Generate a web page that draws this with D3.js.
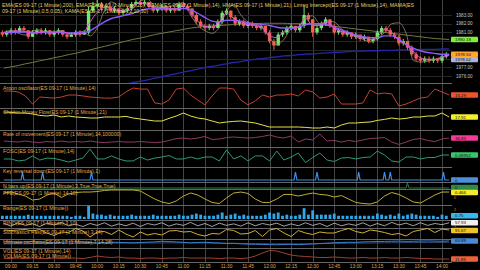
<!DOCTYPE html>
<html>
<head>
<meta charset="utf-8">
<script src="https://cdn.jsdelivr.net/npm/d3@7"></script>
<style>
  html, body { margin: 0; padding: 0; background: #000; }
  svg { display: block; }
</style>
</head>
<body>
<svg id="chart" width="480" height="270"></svg>
<script>

// minutes after 09:00, 3 minute candles / 5 minute indicator samples
const candleMinutes = d3.range(-6, 304, 3)
const lineMinutes = d3.range(-5, 306, 5)

const tickLabels = ["09:00","09:15","09:30","09:45","10:00","10:15","10:30","10:45","11:00","11:15","11:30",
  "11:45","12:00","12:15","12:30","12:45","13:00","13:15","13:30","13:45","14:00"]
const priceTicks = [1976, 1977, 1978, 1979, 1980, 1981, 1982, 1983]

const opens = [1981.0,1980.75,1981.0,1981.25,1981.0,1981.5,1981.25,1980.5,1981.0,1981.25,
  1981.0,1981.25,1980.75,1981.0,1981.25,1980.75,1980.5,1980.75,1981.0,1980.75,
  1981.0,1983.5,1984.0,1984.25,1983.75,1984.0,1983.5,1983.75,1983.25,1983.5,
  1983.75,1984.25,1984.5,1984.25,1984.5,1984.0,1983.5,1983.75,1984.0,1983.5,
  1983.75,1983.5,1984.25,1984.0,1983.75,1983.0,1982.25,1981.75,1981.5,1981.75,
  1981.5,1982.25,1983.25,1983.5,1982.75,1982.0,1982.25,1981.75,1982.0,1981.75,
  1981.5,1981.75,1981.0,1980.0,1979.5,1980.75,1981.0,1981.5,1981.75,1981.25,
  1981.75,1983.0,1982.5,1981.0,1981.5,1982.0,1982.5,1981.75,1981.0,1981.25,
  1980.75,1981.0,1980.5,1980.75,1980.25,1980.5,1980.0,1980.25,1981.0,1981.5,
  1981.25,1980.75,1980.5,1979.75,1980.0,1979.25,1978.5,1978.0,1977.75,1978.0,
  1977.75,1978.0,1977.75,1978.25]
const highs = [1981.25,1981.25,1981.5,1981.5,1981.75,1981.75,1981.25,1981.25,1981.5,1981.5,
  1981.5,1981.25,1981.25,1981.5,1981.25,1981.0,1981.0,1981.25,1981.25,1981.25,
  1984.0,1984.5,1984.75,1984.5,1984.25,1984.25,1984.0,1983.75,1983.75,1984.0,
  1984.5,1984.75,1984.75,1984.75,1984.5,1984.25,1984.0,1984.25,1984.0,1984.0,
  1984.0,1984.5,1984.5,1984.25,1983.75,1983.25,1982.5,1982.0,1982.0,1982.0,
  1982.5,1983.5,1983.75,1983.5,1983.0,1982.5,1982.5,1982.25,1982.25,1982.0,
  1982.0,1981.75,1981.25,1980.25,1981.0,1981.25,1981.75,1982.0,1981.75,1982.0,
  1984.0,1983.25,1982.5,1981.75,1982.25,1982.75,1982.5,1982.0,1981.5,1981.25,
  1981.25,1981.0,1981.0,1980.75,1980.75,1980.5,1980.5,1981.25,1981.75,1981.75,
  1981.5,1981.0,1980.75,1980.25,1980.0,1979.5,1978.75,1978.25,1978.25,1978.25,
  1978.25,1978.0,1978.5,1978.75]
const lows = [1980.5,1980.5,1980.75,1980.75,1981.0,1981.0,1980.25,1980.5,1980.75,1980.75,
  1980.75,1980.5,1980.5,1980.75,1980.5,1980.25,1980.5,1980.5,1980.5,1980.75,
  1980.75,1983.25,1983.75,1983.5,1983.5,1983.25,1983.25,1983.0,1983.0,1983.25,
  1983.5,1984.0,1984.0,1984.0,1983.75,1983.25,1983.25,1983.5,1983.25,1983.25,
  1983.25,1983.5,1983.75,1983.5,1982.75,1982.0,1981.5,1981.25,1981.25,1981.25,
  1981.5,1982.0,1983.0,1982.5,1981.75,1981.75,1981.5,1981.5,1981.5,1981.25,
  1981.25,1980.75,1979.75,1979.0,1979.5,1980.5,1980.75,1981.25,1981.0,1981.0,
  1981.5,1982.25,1980.5,1980.75,1981.25,1981.75,1981.5,1980.75,1980.75,1980.5,
  1980.5,1980.25,1980.25,1980.0,1980.0,1979.75,1979.75,1980.0,1980.75,1981.0,
  1980.5,1980.25,1979.5,1979.5,1979.0,1978.25,1977.75,1977.5,1977.5,1977.5,
  1977.5,1977.5,1977.5,1978.0]
const closes = [1980.75,1981.0,1981.25,1981.0,1981.5,1981.25,1980.5,1981.0,1981.25,1981.0,
  1981.25,1980.75,1981.0,1981.25,1980.75,1980.5,1980.75,1981.0,1980.75,1981.0,
  1983.5,1984.0,1984.25,1983.75,1984.0,1983.5,1983.75,1983.25,1983.5,1983.75,
  1984.25,1984.5,1984.25,1984.5,1984.0,1983.5,1983.75,1984.0,1983.5,1983.75,
  1983.5,1984.25,1984.0,1983.75,1983.0,1982.25,1981.75,1981.5,1981.75,1981.5,
  1982.25,1983.25,1983.5,1982.75,1982.0,1982.25,1981.75,1982.0,1981.75,1981.5,
  1981.75,1981.0,1980.0,1979.5,1980.75,1981.0,1981.5,1981.75,1981.25,1981.75,
  1983.0,1982.5,1981.0,1981.5,1982.0,1982.5,1981.75,1981.0,1981.25,1980.75,
  1981.0,1980.5,1980.75,1980.25,1980.5,1980.0,1980.25,1981.0,1981.5,1981.25,
  1980.75,1980.5,1979.75,1980.0,1979.25,1978.5,1978.0,1977.75,1978.0,1977.75,
  1978.0,1977.75,1978.25,1978.5]

// price overlays
const emaSlow = [1976.9,1977.05,1977.2,1977.4,1977.55,1977.75,1977.9,1978.1,1978.25,1978.45,1978.6,1978.8,1979.0,
  1979.2,1979.4,1979.6,1979.8,1980.0,1980.2,1980.35,1980.55,1980.75,1980.9,
  1981.05,1981.2,1981.35,1981.5,1981.6,1981.7,1981.75,1981.8,1981.85,
  1981.9,1981.95,1982.0,1982.0,1982.05,1982.05,1982.05,1982.05,1982.0,1982.0,1982.0,1981.95,1981.9,
  1981.8,1981.7,1981.6,1981.5,1981.4,1981.3,1981.2,1981.1,1981.0,1980.9,1980.8,1980.7,1980.6,1980.5,1980.4,1980.3,1980.25,1980.18]
const emaFast = [1981.0,1981.0,1981.05,1981.05,1981.0,1981.0,1981.05,1981.05,1981.0,1980.95,1980.95,1980.95,
  1981.2,1981.7,1982.2,1982.6,1982.8,1983.0,1983.2,1983.5,1983.7,1983.7,1983.75,
  1983.7,1983.7,1983.75,1983.6,1983.2,1982.7,1982.3,1982.2,1982.4,1982.4,1982.3,1982.1,1982.0,1981.9,
  1981.8,1981.6,1981.5,1981.5,1981.6,1981.9,1982.0,1982.0,
  1981.9,1981.6,1981.3,1981.0,1980.7,1980.5,1980.4,1980.4,1980.6,1980.6,1980.2,1979.6,1979.2,1978.9,1978.7,1978.6,1978.5,1978.5]
const dema = [1981.0,1981.1,1981.2,1981.1,1980.9,1981.0,1981.1,1981.0,1981.1,1980.9,1980.8,1980.9,
  1982.2,1983.3,1983.9,1983.8,1983.5,1983.6,1984.1,1984.4,1984.2,1983.8,1983.9,1983.7,1983.7,1984.0,
  1983.3,1982.3,1981.7,1981.6,1982.2,1983.2,1982.6,1982.1,1981.9,1981.8,1981.5,1980.6,1980.4,1981.1,1981.6,1981.6,
  1982.6,1981.8,1981.8,1982.2,1981.5,1981.1,1980.9,1980.6,1980.4,1980.2,1980.5,1981.3,1981.0,1980.1,1979.6,1978.8,1978.1,1977.9,1977.9,1978.1,1978.4]
const smaLong = [1972.4,1972.6,1972.75,1972.9,1973.05,1973.2,1973.35,1973.5,1973.65,1973.8,
  1973.95,1974.1,1974.3,1974.45,1974.6,1974.75,1974.9,1975.05,1975.25,1975.4,
  1975.55,1975.75,1975.9,1976.1,1976.25,1976.45,1976.6,1976.8,1976.95,1977.1,
  1977.25,1977.4,1977.55,1977.65,1977.8,1977.9,1978.0,1978.1,1978.2,1978.3,
  1978.35,1978.45,1978.5,1978.55,1978.6,1978.65,1978.7,1978.75,1978.8,1978.85,
  1978.85,1978.9,1978.9,1978.95,1978.95,1979.0,1979.0,1979.0,1979.05,1979.05,
  1979.05,1979.1,1979.1]
const linreg = [1981.0,1981.2,1980.9,1980.7,1981.2,1981.3,1980.9,1981.0,1981.2,1980.8,1981.0,1981.1,
  1980.6,1981.5,1983.5,1984.5,1984.0,1983.4,1983.8,1984.6,1984.8,1984.0,1983.6,1983.9,1984.2,1984.4,
  1983.0,1981.8,1981.2,1980.9,1981.6,1983.4,1984.2,1983.0,1982.2,1981.9,1981.6,1980.4,1979.6,1980.2,1981.4,1981.6,
  1982.8,1982.9,1982.0,1982.3,1982.2,1981.4,1980.9,1980.5,1980.2,1979.9,1980.3,1981.0,1982.0,1982.1,1980.9,1977.8,1977.6,1977.7,1977.9,1978.2,1978.4]
const priceMarkers = [1980.18, 1978.50, 1978.02]

// indicator panels, values as percent of panel height
const aroon = [83,83,78,56,11,50,47,44,50,61,61,56,50,47,44,44,50,78,100,94,94,17,11,33,94,100,61,33,6,56,
  100,100,94,33,6,28,61,50,61,61,67,56,89,78,44,50,67,11,11,11,17,89,67,72,67,0,11,28,44,50,94,78,61]
const cmf = [90,88,85,85,80,73,70,75,65,70,65,63,60,60,65,65,65,68,60,55,50,45,45,58,70,85,70,60,55,45,
  35,40,43,45,40,35,25,15,15,15,15,15,13,10,10,15,10,25,35,35,38,40,48,53,60,55,58,65,65,70,70,85,65]
const roc = [37.5,34,31,37.5,31,28,34,31,37.5,31,34,31,37.5,31,28,31,34,31,31,34,31,28,31,41,53,56,50,56,66,47,
  50,59,62.5,59,56,59,66,75,62.5,56,69,31,50,44,81,37.5,41,31,41,34,44,53,56,59,31,16,31,47,53,41,34,50,56]
const fosc = [39,39,28,33,56,33,44,42,33,22,33,44,94,39,39,56,39,28,28,50,33,44,50,58,39,39,50,39,50,50,
  28,89,39,56,28,56,56,28,83,33,50,72,19,47,72,33,25,44,47,39,47,50,83,61,28,22,50,50,39,47,47,61,61]
const keyReversalAt = [8, 22, 56, 198, 213, 242, 260, 264, 301]
const nBarsUpAt = [276]
const pfe = [75,81,69,56,31,37.5,62.5,75,47,69,78,81,81,84,91,94,94,94,94,87.5,62.5,37.5,19,9,25,56,75,62.5,37.5,16,
  9,44,75,81,72,37.5,16,16,37.5,66,66,56,66,75,66,62.5,50,59,37.5,16,9,6,19,56,78,66,44,19,12.5,37.5,62.5,81,81]
const rind = [60,25,70,35,55,20,65,40,75,30,50,20,60,35,70,25,55,30,65,20,60,40,70,25,55,35,75,30,60,20,
  65,35,55,25,70,30,60,40,65,25,55,30,70,35,60,20,65,30,55,35,70,25,60,30,75,40,65,30,70,35,60,45,70]
const stochK = [85,80,85,90,75,90,55,30,65,60,100,75,15,65,70,40,85,45,15,65,35,50,35,75,80,65,70,40,25,50,
  45,90,80,45,50,80,20,85,100,55,20,80,55,40,65,55,55,80,100,70,55,85,75,60,40,50,25,70,85,100,60,95,85]
const ultOsc = [72,70,66,70,74,68,64,60,66,70,72,68,62,58,62,66,64,60,58,62,66,70,
  78,74,70,64,58,62,66,60,56,50,52,46,42,40,38,36,34,38,40,36,40,44,50,
  54,60,62,66,64,70,72,74,76,78,80,76,78,80,82,80,78,82]
const ultAvg = [45,46,48,47,48,50,49,50,52,51,52,53,54,53,55,54,55,56,55,56,57,56,57,58,58,59,57,57,56,55,
  54,53,52,51,50,49,48,47,47,46,45,46,47,48,49,50,52,52,53,55,55,56,57,58,59,60,61,61,62,63,64,64,65]
const volma = [29,29,33,29,33,29,29,33,29,33,33,29,37.5,50,42,37.5,42,33,33,29,33,33,29,33,33,37.5,33,33,33,33,
  29,33,33,29,33,50,75,96,92,75,58,50,46,42,37.5,37.5,42,37.5,33,33,37.5,33,33,37.5,33,33,37.5,33,29,29,25,25,25]

const panelTitles = [
  "Aroon oscillator(ES 09-17 (1 Minute),14)",
  "Chaikin Money Flow(ES 09-17 (1 Minute),21)",
  "Rate of movement(ES 09-17 (1 Minute),14,100000)",
  "FOSC(ES 09-17 (1 Minute),14)",
  "Key reversal down(ES 09-17 (1 Minute),1)",
  "N bars up(ES 09-17 (1 Minute),3,True,True,True)",
  "PFE(ES 09-17 (1 Minute),14,10)",
  "Range(ES 09-17 (1 Minute))",
  "RIND(ES 09-17 (1 Minute),3,10)",
  "Stochastics Fast(ES 09-17 (1 Minute),3,14)",
  "Ultimate oscillator(ES 09-17 (1 Minute),7,14,28)",
  "VOL(ES 09-17 (1 Minute),14)",
  "VOLMA(ES 09-17 (1 Minute))"
]
const priceTitles = [
  "EMA(ES 09-17 (1 Minute),200), EMA(ES 09-17 (1 Minute),25), DEMA(ES 09-17 (1 Minute),14), HMA(ES 09-17 (1 Minute),21), Linreg Intercept(ES 09-17 (1 Minute),14), MAMA(ES",
  "09-17 (1 Minute),0.5,0.05), KAMA(ES 09-17 (1 Minute),2,10,30)"
]
const lastLabels = ["15.29","17.91","36.83","0.09952","0","0","0.466","0.75","57.93","91.67","60.89","11.89"]
const axisNotes = [["0", 198], ["2", 210], ["1", 226.2]]

const W = 480, H = 270
const plotRight = 452
const font = "Liberation Sans, Arial, sans-serif"

const svg = d3.select("#chart")
svg.append("rect").attr("width", W).attr("height", H).attr("fill", "#000")

const x = d3.scaleLinear().domain([0, 300]).range([11, 442])
const yPrice = d3.scaleLinear().domain([1976, 1983]).range([76, 15])
const pct = (bottom, top) => d3.scaleLinear().domain([0, 100]).range([bottom, top])

//grid
const tickMinutes = tickLabels.map((d, i) => i * 15)
svg.append("g").selectAll("line").data(tickMinutes).enter().append("line")
  .attr("x1", d => Math.round(x(d)) + 0.5).attr("x2", d => Math.round(x(d)) + 0.5)
  .attr("y1", 0).attr("y2", 262)
  .attr("stroke", "#444").attr("stroke-width", 1)

svg.append("g").selectAll("line").data(priceTicks).enter().append("line")
  .attr("x1", 0).attr("x2", plotRight)
  .attr("y1", d => Math.round(yPrice(d)) + 0.5).attr("y2", d => Math.round(yPrice(d)) + 0.5)
  .attr("stroke", "#262626")

const separators = [83.5, 108.5, 130.5, 147.5, 167.5, 182.5, 189.5, 205.5, 220.5, 228.5, 239.5, 248.5, 262.5]
svg.append("g").selectAll("line").data(separators).enter().append("line")
  .attr("x1", 0).attr("x2", plotRight).attr("y1", d => d).attr("y2", d => d)
  .attr("stroke", "#666")

// price panel
svg.append("clipPath").attr("id", "priceClip")
  .append("rect").attr("x", 0).attr("y", 0).attr("width", plotRight).attr("height", 83)
const price = svg.append("g").attr("clip-path", "url(#priceClip)")

const priceLine = (vals, color, w) => {
  price.append("path")
    .datum(vals.map((v, i) => [lineMinutes[i], v]))
    .attr("fill", "none").attr("stroke", color).attr("stroke-width", w)
    .attr("d", d3.line().x(d => x(d[0])).y(d => yPrice(d[1])).curve(d3.curveMonotoneX))
}
priceLine(smaLong, "#2626a8", 1.3)
priceLine(emaSlow, "#76773a", 1)

const candles = candleMinutes.map((m, i) => ({ m, o: opens[i], h: highs[i], l: lows[i], c: closes[i] }))
const cg = price.append("g")
cg.selectAll("line").data(candles).enter().append("line")
  .attr("x1", d => x(d.m)).attr("x2", d => x(d.m))
  .attr("y1", d => yPrice(d.h)).attr("y2", d => yPrice(d.l))
  .attr("stroke", d => d.c >= d.o ? "#74e86c" : "#f4624e").attr("stroke-width", 1)
cg.selectAll("rect").data(candles).enter().append("rect")
  .attr("x", d => x(d.m) - 1.7).attr("width", 3.4)
  .attr("y", d => yPrice(Math.max(d.o, d.c)))
  .attr("height", d => Math.max(1.2, Math.abs(yPrice(d.o) - yPrice(d.c))))
  .attr("fill", d => d.c > d.o ? "#74e86c" : d.c < d.o ? "#f4624e" : "#e8d060")

priceLine(linreg, "#9a8a72", 0.8)
priceLine(emaFast, "#8a5cff", 1.4)
priceLine(dema, "#e050e0", 1)

// indicator lines
const line = (vals, scale, color, w) => {
  svg.append("path")
    .datum(vals.map((v, i) => [lineMinutes[i], v]))
    .attr("fill", "none").attr("stroke", color).attr("stroke-width", w || 1)
    .attr("d", d3.line().x(d => x(d[0])).y(d => scale(d[1])))
}
const sAroon = pct(106, 88), sCmf = pct(130, 110), sRoc = pct(147, 131), sFosc = pct(166, 148)
const sPfe = pct(205, 189), sRind = pct(228, 220.5), sStoch = pct(238.5, 228.5)
const sUlt = pct(247.5, 239.5), sVolma = pct(262, 250)

line(aroon, sAroon, "#c8402e")
line(cmf, sCmf, "#e4e24a")
line(roc, sRoc, "#8e3a62")
line(fosc, sFosc, "#2f9a6e")
line(pfe, sPfe, "#bfae34")
line(rind, sRind, "#c9c9c9", 0.8)
line(stochK, sStoch, "#d6ae2e")
line(ultAvg, sUlt, "#2b4a78")
line(ultOsc, sUlt, "#3c7fd0")
line(volma, sVolma, "#a0402c")

// signal panels: spikes at the listed minutes
const signalPath = (at, y0, y1) => {
  const pts = [[-5, 0]]
  at.forEach(m => { pts.push([m - 1, 0], [m, 1], [m + 1, 0]) })
  pts.push([305, 0])
  const s = d3.scaleLinear().domain([0, 1]).range([y0, y1])
  return d3.line().x(d => x(d[0])).y(d => s(d[1]))(pts)
}
svg.append("path").attr("d", signalPath(keyReversalAt, 180, 172))
  .attr("fill", "none").attr("stroke", "#3a8ee6").attr("stroke-width", 1.2)
svg.append("path").attr("d", signalPath(nBarsUpAt, 188, 183))
  .attr("fill", "none").attr("stroke", "#2f7a45").attr("stroke-width", 1)

// range histogram from the candles
const yRange = d3.scaleLinear().domain([0, 3]).range([219, 206]).clamp(true)
svg.append("g").selectAll("rect").data(candles).enter().append("rect")
  .attr("x", d => x(d.m) - 1.4).attr("width", 2.8)
  .attr("y", d => yRange(d.h - d.l))
  .attr("height", d => yRange(0) - yRange(d.h - d.l))
  .attr("fill", "#2ea8ea")

// titles
const titleG = svg.append("g").attr("font-family", font).attr("font-size", 5.2)
titleG.selectAll("text.p").data(priceTitles).enter().append("text")
  .attr("x", 2).attr("y", (d, i) => 5 + i * 6).attr("dominant-baseline", "central")
  .attr("fill", "#e6cf6a").text(d => d)
const titleY = [88, 112, 134, 151, 171, 185.5, 193, 208, 222.8, 232, 242, 251, 256]
titleG.selectAll("text.t").data(panelTitles).enter().append("text")
  .attr("x", 3).attr("y", (d, i) => titleY[i]).attr("dominant-baseline", "central")
  .attr("fill", "#e2a84a").text(d => d)

// right price axis, ticks hidden where a value marker sits on top
const markerYs = priceMarkers.map(yPrice)
const shownTicks = priceTicks.filter(t => markerYs.every(m => Math.abs(yPrice(t) - m) > 5))
svg.append("g").selectAll("text").data(shownTicks).enter().append("text")
  .attr("x", 456).attr("y", d => yPrice(d)).attr("dominant-baseline", "central")
  .attr("font-family", font).attr("font-size", 4.6).attr("fill", "#c4c4c4")
  .text(d => d3.format(".2f")(d))

svg.append("g").selectAll("text").data(axisNotes).enter().append("text")
  .attr("x", 454).attr("y", d => d[1]).attr("dominant-baseline", "central")
  .attr("font-family", font).attr("font-size", 3.6).attr("fill", "#e0902a")
  .text(d => d[0])

// value markers
const marker = (yPos, text, fill, ink) => {
  const g = svg.append("g")
  g.append("rect").attr("x", 451).attr("y", yPos - 2.8).attr("width", 27).attr("height", 5.6)
    .attr("rx", 1).attr("fill", fill)
  g.append("text").attr("x", 455).attr("y", yPos).attr("dominant-baseline", "central")
    .attr("font-family", font).attr("font-size", 4.4).attr("fill", ink || "#111").text(text)
}
marker(yPrice(priceMarkers[2]) + 1, d3.format(".2f")(priceMarkers[2]), "#aab4dc")
marker(yPrice(priceMarkers[1]), d3.format(".2f")(priceMarkers[1]), "#ffa733")
marker(yPrice(priceMarkers[0]), d3.format(".2f")(priceMarkers[0]), "#7ef03a")

const last = a => a[a.length - 1]
const lastCandle = last(candles)
marker(sAroon(last(aroon)), lastLabels[0], "#f0522a")
marker(sCmf(last(cmf)), lastLabels[1], "#f4f02a")
marker(sRoc(last(roc)), lastLabels[2], "#f23c96")
marker(sFosc(last(fosc)), lastLabels[3], "#34c86a")
marker(180, lastLabels[4], "#4a90dc")
marker(187.5, lastLabels[5], "#2f8a4a")
marker(sPfe(last(pfe)) + 0.5, lastLabels[6], "#f2ea2a")
marker(yRange(lastCandle.h - lastCandle.l), d3.format(".2f")(lastCandle.h - lastCandle.l), "#36b8ee")
marker(sRind(last(rind)), lastLabels[8], "#f0f0f0")
marker(sStoch(last(stochK)) + 0.5, lastLabels[9], "#ecc52c")
marker(sUlt(last(ultOsc)), lastLabels[10], "#4a8ad6")
marker(sVolma(last(volma)), lastLabels[11], "#f0603a")

// time axis
svg.append("g").selectAll("text").data(tickLabels).enter().append("text")
  .attr("x", (d, i) => x(tickMinutes[i])).attr("y", 266.5)
  .attr("text-anchor", "middle").attr("dominant-baseline", "central")
  .attr("font-family", font).attr("font-size", 4.8).attr("fill", "#e0a24a")
  .text(d => d)

</script>
</body>
</html>
